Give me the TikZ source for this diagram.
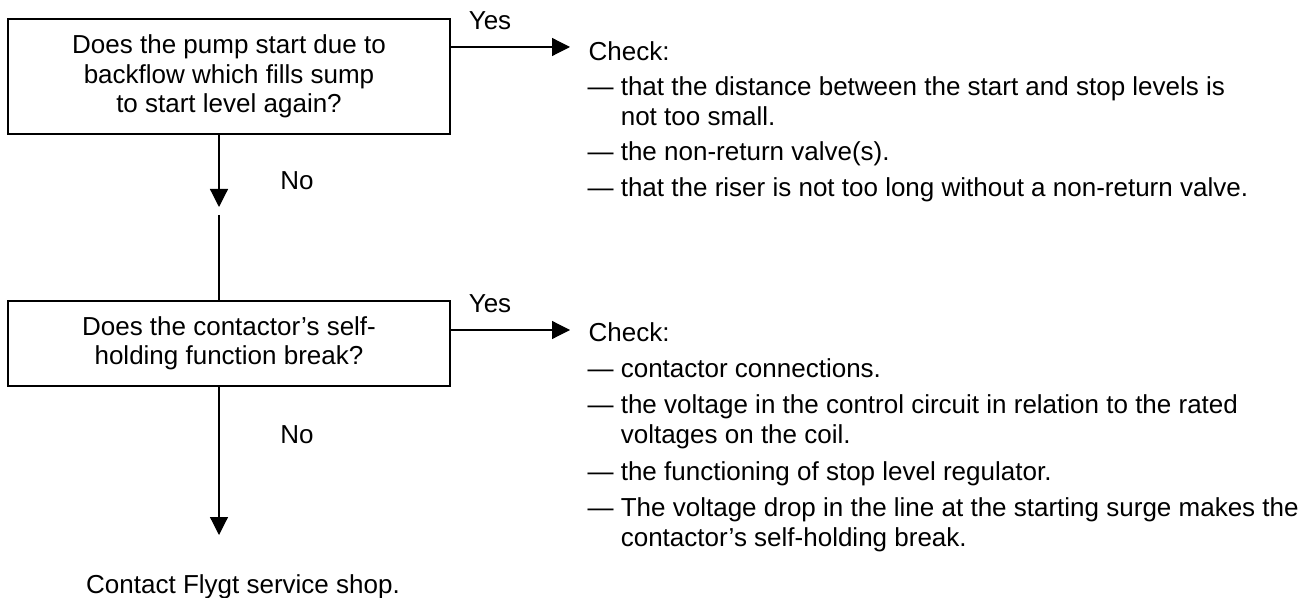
\documentclass[tikz,border=0pt]{standalone}
\usepackage{fontspec}
\setmainfont{Liberation Sans}
\usetikzlibrary{arrows.meta,positioning,calc}
\newcommand{\dashitem}[1]{\textemdash\ \parbox[t]{360pt}{\raggedright #1}}

\begin{document}
\begin{tikzpicture}[x=0.5pt,y=-0.5pt,line width=0.6pt,>={Triangle[length=9pt,width=9pt]},
    qbox/.style={draw,minimum width=221pt,inner sep=0pt,align=center,font=\fontsize{13pt}{14.75pt}\selectfont},
    lbl/.style={anchor=base,font=\fontsize{13pt}{16pt}\selectfont},
    chk/.style={anchor=base west,inner sep=0pt,font=\fontsize{13pt}{15pt}\selectfont}]
  \useasboundingbox (0,0) rectangle (1315,598);
  \node[qbox,minimum height=57.5pt] (q1) at (229,76.5) {Does the pump start due to\\backflow which fills sump\\to start level again?};
  \node[qbox,minimum height=42.5pt] (q2) at (229,343.5) {Does the contactor’s self-\\holding function break?};
  \coordinate (trunk) at (219,0);
  \coordinate (n1) at (219,207);
  \coordinate (n1b) at (219,215);
  \coordinate (n2) at (219,535);
  \coordinate (y1) at (570,47);
  \coordinate (y2) at (570,330);
  \draw[->] (q1.south -| trunk) -- (n1);
  \draw (n1b) -- (q2.north -| trunk);
  \draw[->] (q2.south -| trunk) -- (n2);
  \draw[->] (q1.east |- y1) -- (y1);
  \draw[->] (q2.east |- y2) -- (y2);
  \node[lbl] (yes1) at (490,30) {Yes};
  \node[lbl] (yes2) at (490,313) {Yes};
  \node[lbl] (no1) at (297,190) {No};
  \node[lbl] (no2) at (297,443) {No};
  % first answer
  \node[chk] (chk1) at (588,61) {Check:};
  \node[chk] (c1a) at (587,96) {\dashitem{that the distance between the start and stop levels is\\not too small.}};
  \node[chk] (c1b) at (587,161) {\dashitem{the non-return valve(s).}};
  \node[chk] (c1c) at (587,197) {\dashitem{that the riser is not too long without a non-return valve.}};
  % second answer
  \node[chk] (chk2) at (588,342) {Check:};
  \node[chk] (c2a) at (587,377) {\dashitem{contactor connections.}};
  \node[chk] (c2b) at (587,413) {\dashitem{the voltage in the control circuit in relation to the rated\\voltages on the coil.}};
  \node[chk] (c2c) at (587,480) {\dashitem{the functioning of stop level regulator.}};
  \node[chk] (c2d) at (587,516) {\dashitem{The voltage drop in the line at the starting surge makes the\\contactor’s self-holding break.}};
  \node[lbl] (shop) at (243,593) {Contact Flygt service shop.};
\end{tikzpicture}
\end{document}
